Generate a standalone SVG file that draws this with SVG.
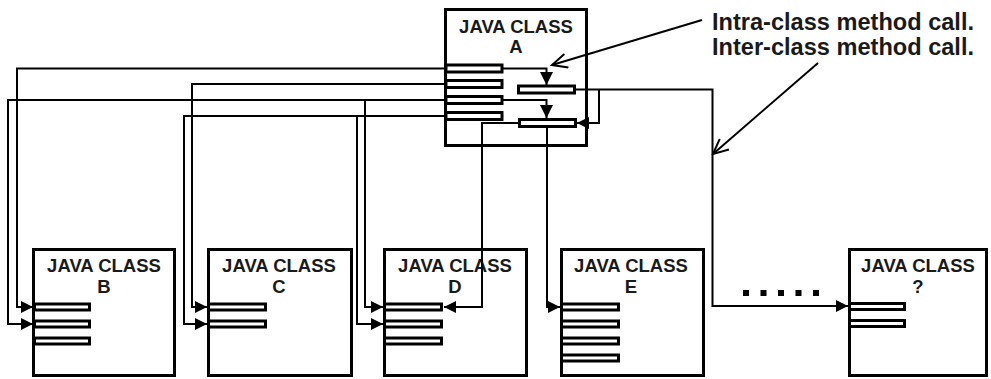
<svg xmlns="http://www.w3.org/2000/svg" width="991" height="379" viewBox="0 0 991 379">
<style>
.box{fill:#fff;stroke:#000;stroke-width:3}
.bar{fill:#fff;stroke:#000;stroke-width:3}
.t{font-family:"Liberation Sans",Arial,sans-serif;font-weight:bold;font-size:18.5px;text-anchor:middle;fill:#1a1a1a}
.note{font-family:"Liberation Sans",Arial,sans-serif;font-weight:bold;font-size:23.5px;fill:#1a1a1a}
.ca{fill:none;stroke:#000;stroke-width:2;marker-end:url(#ah)}
.cb{fill:none;stroke:#000;stroke-width:2;marker-end:url(#ahb)}
.na{fill:none;stroke:#000;stroke-width:2;marker-end:url(#open)}
</style>
<defs>
<marker id="ah" markerUnits="userSpaceOnUse" markerWidth="12" markerHeight="12" viewBox="0 0 12 12" refX="12" refY="6" orient="auto"><path d="M0,0 L12,6 L0,12 z" fill="#000"/></marker>
<marker id="ahb" markerUnits="userSpaceOnUse" markerWidth="13" markerHeight="13" viewBox="0 0 13 13" refX="13" refY="6.5" orient="auto"><path d="M0,0 L13,6.5 L0,13 z" fill="#000"/></marker>
<marker id="open" markerUnits="userSpaceOnUse" markerWidth="18" markerHeight="16" viewBox="0 0 18 16" refX="16" refY="8" orient="auto"><path d="M1,1 L16,8 L1,15" fill="none" stroke="#000" stroke-width="2"/></marker>
</defs>
<rect width="991" height="379" fill="#fff"/>

<g id="classA">
<rect class="box" x="445.5" y="9.5" width="141" height="136"/>
<text class="t" x="516" y="33">JAVA CLASS</text>
<text class="t" x="516" y="53">A</text>
<rect class="bar" x="446" y="65" width="56" height="7"/>
<rect class="bar" x="446" y="80.5" width="56" height="7"/>
<rect class="bar" x="446" y="96.5" width="56" height="7"/>
<rect class="bar" x="446" y="112.5" width="56" height="7"/>
<rect class="bar" x="518.5" y="86" width="56" height="7"/>
<rect class="bar" x="519.5" y="119.5" width="56" height="7"/>
</g>

<g id="classB">
<rect class="box" x="33.5" y="249.5" width="141" height="126"/>
<text class="t" x="104" y="272">JAVA CLASS</text>
<text class="t" x="104" y="293">B</text>
<rect class="bar" x="34.5" y="304" width="55" height="6"/>
<rect class="bar" x="34.5" y="321" width="55" height="6"/>
<rect class="bar" x="34.5" y="338" width="55" height="6"/>
</g>

<g id="classC">
<rect class="box" x="208.5" y="249.5" width="143" height="126"/>
<text class="t" x="279" y="272">JAVA CLASS</text>
<text class="t" x="279" y="293">C</text>
<rect class="bar" x="208.5" y="304" width="57" height="6"/>
<rect class="bar" x="208.5" y="321" width="57" height="6"/>
</g>

<g id="classD">
<rect class="box" x="384.5" y="249.5" width="142" height="126"/>
<text class="t" x="455" y="272">JAVA CLASS</text>
<text class="t" x="455" y="293">D</text>
<rect class="bar" x="384.5" y="304" width="57" height="6"/>
<rect class="bar" x="384.5" y="321" width="57" height="6"/>
<rect class="bar" x="384.5" y="338" width="57" height="6"/>
</g>

<g id="classE">
<rect class="box" x="561.5" y="249.5" width="142" height="126"/>
<text class="t" x="631" y="272">JAVA CLASS</text>
<text class="t" x="631" y="293">E</text>
<rect class="bar" x="561.5" y="304" width="57" height="6"/>
<rect class="bar" x="561.5" y="321" width="57" height="6"/>
<rect class="bar" x="561.5" y="338" width="57" height="6"/>
<rect class="bar" x="561.5" y="355" width="57" height="6"/>
</g>

<g id="classQ">
<rect class="box" x="849.5" y="249.5" width="137" height="126"/>
<text class="t" x="918" y="272">JAVA CLASS</text>
<text class="t" x="918" y="293">?</text>
<rect class="bar" x="849.5" y="303.5" width="55" height="6"/>
<rect class="bar" x="849.5" y="320.5" width="55" height="6"/>
</g>

<g id="connectors">
<path class="ca" d="M444,68.5 H17 V307 H33"/>
<path class="ca" d="M444,100 H8 V324 H33"/>
<path class="ca" d="M444,84 H192 V307 H207"/>
<path class="ca" d="M444,116 H184 V324 H207"/>
<path class="ca" d="M365,100 V307 H383"/>
<path class="ca" d="M357,116 V324 H383"/>
<path class="ca" d="M518,123 H482 V307 H444"/>
<path class="ca" d="M547,128 V307 H560"/>
<path class="ca" d="M576,89.5 H712.5 V306 H848"/>
<path class="ca" d="M599,89.5 V123 H577"/>
<path class="cb" d="M503,68.5 H546.5 V85"/>
<path class="cb" d="M503,100 H546.5 V118"/>
</g>

<g id="ellipsis" fill="#000">
<rect x="743" y="290" width="6" height="6"/>
<rect x="760.5" y="290" width="6" height="6"/>
<rect x="778" y="290" width="6" height="6"/>
<rect x="795.5" y="290" width="6" height="6"/>
<rect x="813" y="290" width="6" height="6"/>
</g>

<g id="legend">
<text class="note" x="712" y="30" textLength="262" lengthAdjust="spacingAndGlyphs">Intra-class method call.</text>
<text class="note" x="712" y="55" textLength="262" lengthAdjust="spacingAndGlyphs">Inter-class method call.</text>
<path class="na" d="M702,20 L552,65"/>
<path class="na" d="M818,63 L713,154"/>
</g>
</svg>
